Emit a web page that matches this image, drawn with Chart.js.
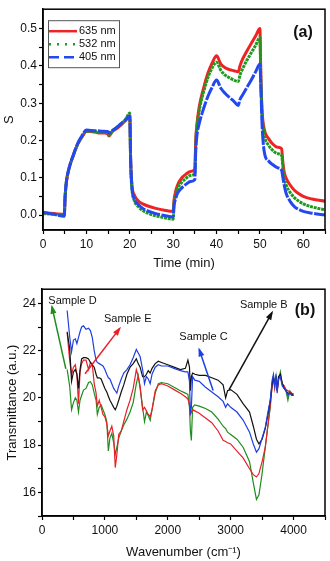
<!DOCTYPE html>
<html>
<head>
<meta charset="utf-8">
<script src="https://cdn.jsdelivr.net/npm/chart.js@4/dist/chart.umd.min.js"></script>
<style>
  body { margin: 0; background: #fff; }
  #wrapA { position: absolute; left: 0; top: 0; }
  #wrapB { position: absolute; left: 0; top: 280px; }
</style>
</head>
<body>
<div id="wrapA"><canvas id="chartA" width="330" height="280"></canvas></div>
<div id="wrapB"><canvas id="chartB" width="330" height="281"></canvas></div>
<script>
// ---- panel (a): sensitivity vs time ----
const times = [0, 2.5, 4.9, 5.1, 5.4, 6, 7, 8, 9, 10,
  11, 12.5, 14, 14.9, 15.2, 16, 17, 18, 19, 20,
  20.2, 20.5, 21, 22, 23, 24, 26, 28, 30, 30.2,
  30.6, 31, 32, 33, 34, 35, 35.2, 35.5, 36, 37,
  38, 39, 40, 41, 42, 43, 44, 45, 45.4, 46,
  47, 48, 49, 50, 50.2, 50.5, 51, 52, 53, 54,
  55, 55.3, 55.6, 56, 57, 58, 59, 60, 62, 65];
const s635 = [0.006, 0.004, 0.002, 0.05, 0.09, 0.125, 0.16, 0.19, 0.21, 0.224,
  0.224, 0.221, 0.22, 0.218, 0.212, 0.224, 0.232, 0.242, 0.253, 0.266,
  0.15, 0.08, 0.055, 0.038, 0.03, 0.025, 0.018, 0.013, 0.01, 0.04,
  0.065, 0.08, 0.1, 0.11, 0.117, 0.123, 0.2, 0.245, 0.29, 0.34,
  0.38, 0.408, 0.427, 0.405, 0.395, 0.39, 0.387, 0.384, 0.4, 0.418,
  0.44, 0.46, 0.48, 0.5, 0.38, 0.28, 0.23, 0.205, 0.19, 0.182,
  0.178, 0.14, 0.115, 0.1, 0.08, 0.066, 0.057, 0.05, 0.043, 0.037];
const s532 = [0.004, 0.002, 0.0, 0.05, 0.09, 0.125, 0.16, 0.19, 0.21, 0.225,
  0.225, 0.223, 0.222, 0.22, 0.214, 0.226, 0.235, 0.245, 0.256, 0.274,
  0.14, 0.07, 0.04, 0.022, 0.012, 0.006, -0.002, -0.007, -0.011, 0.03,
  0.055, 0.07, 0.088, 0.099, 0.106, 0.112, 0.19, 0.24, 0.28, 0.33,
  0.368, 0.395, 0.41, 0.388, 0.375, 0.368, 0.362, 0.358, 0.375, 0.392,
  0.415, 0.435, 0.455, 0.476, 0.37, 0.27, 0.215, 0.187, 0.173, 0.165,
  0.16, 0.13, 0.1, 0.082, 0.06, 0.046, 0.037, 0.03, 0.022, 0.014];
const s405 = [0.008, 0.002, -0.003, 0.05, 0.09, 0.125, 0.162, 0.192, 0.213, 0.228,
  0.227, 0.226, 0.225, 0.224, 0.22, 0.227, 0.235, 0.245, 0.255, 0.266,
  0.15, 0.075, 0.045, 0.028, 0.018, 0.012, 0.004, -0.001, -0.005, 0.025,
  0.045, 0.058, 0.073, 0.083, 0.09, 0.095, 0.17, 0.215, 0.245, 0.285,
  0.318, 0.343, 0.362, 0.34, 0.326, 0.315, 0.305, 0.294, 0.31, 0.322,
  0.342, 0.362, 0.384, 0.405, 0.35, 0.24, 0.17, 0.145, 0.135, 0.127,
  0.12, 0.1, 0.08, 0.06, 0.036, 0.022, 0.015, 0.01, 0.005, 0.0];
const seriesA = ['635 nm', '532 nm', '405 nm'];
const xTicksA = [0, 5, 10, 15, 20, 25, 30, 35, 40, 45, 50, 55, 60, 65];
const yTicksA = [0, 0.05, 0.1, 0.15, 0.2, 0.25, 0.3, 0.35, 0.4, 0.45, 0.5];

// ---- panel (b): FTIR spectra ----
const wn = [400, 440, 470, 500, 530, 555, 580, 605, 630, 660,
  700, 740, 770, 800, 830, 860, 880, 910, 940, 970,
  1000, 1030, 1055, 1080, 1110, 1140, 1165, 1190, 1220, 1260,
  1300, 1350, 1400, 1450, 1500, 1530, 1560, 1600, 1630, 1660,
  1690, 1720, 1750, 1800, 1850, 1900, 2000, 2100, 2200, 2280,
  2320, 2345, 2360, 2375, 2395, 2430, 2500, 2600, 2700, 2800,
  2880, 2920, 2950, 3000, 3100, 3200, 3300, 3360, 3410, 3450,
  3500, 3550, 3600, 3630, 3660, 3680, 3700, 3720, 3740, 3760,
  3790, 3820, 3850, 3880, 3910, 3940, 3970, 4000];
const tC = [23.7, 22.6, 21.95, 22.45, 22.5, 22.3, 22.55, 22.8, 23.0, 23.05,
  22.9, 22.95, 22.85, 22.55, 22.0, 21.6, 21.5, 21.45, 21.4, 21.35,
  21.2, 21.0, 20.85, 20.8, 20.6, 20.4, 20.3, 20.2, 20.5, 20.8,
  21.05, 21.2, 21.4, 21.7, 22.05, 21.9, 21.75, 21.2, 20.6, 20.9,
  20.8, 20.6, 21.0, 21.3, 21.4, 21.35, 21.35, 21.25, 21.15, 21.1,
  21.1, 20.7, 19.3, 19.6, 20.9, 20.75, 20.7, 20.45, 20.25, 20.05,
  19.85, 19.6, 19.75, 19.6, 19.4, 19.05, 18.55, 18.05, 17.7, 17.85,
  18.3, 18.75, 19.5, 19.9, 20.75, 21.0, 20.5, 20.9, 20.2, 20.8,
  20.9, 20.5, 20.4, 20.3, 20.1, 20.2, 20.1, 20.1];
const tB = [22.8, 22.1, 20.7, 21.1, 21.2, 21.0, 20.4, 21.2, 21.65, 21.7,
  21.7, 21.65, 21.5, 21.4, 21.3, 21.0, 20.85, 20.85, 20.8, 20.6,
  20.4, 20.25, 20.07, 19.9, 19.75, 19.6, 19.5, 19.65, 19.9, 20.25,
  20.55, 21.0, 21.3, 21.45, 21.65, 21.45, 21.3, 20.9, 20.9, 21.0,
  21.15, 21.05, 21.25, 21.45, 21.55, 21.5, 21.4, 21.3, 21.2, 21.25,
  21.6, 21.3, 20.3, 20.9, 21.05, 21.0, 20.95, 20.95, 20.85, 20.75,
  20.55, 20.0, 20.3, 20.35, 20.15, 19.75, 19.4, 18.8, 18.25, 18.05,
  18.25, 18.7, 19.4, 19.9, 20.6, 20.9, 20.6, 20.8, 20.3, 20.9,
  21.0, 20.6, 20.4, 20.3, 20.2, 20.2, 20.15, 20.1];
const tE = [22.75, 21.6, 21.0, 21.3, 21.4, 21.0, 19.75, 21.1, 21.45, 21.6,
  21.6, 21.2, 21.5, 21.4, 20.6, 20.2, 19.66, 19.9, 19.6, 19.3,
  19.2, 18.9, 18.4, 18.6, 18.8, 18.4, 17.05, 17.6, 18.45, 18.6,
  19.0, 19.5, 19.9, 20.4, 21.2, 20.9, 20.5, 19.5, 19.6, 19.45,
  19.3, 19.2, 19.5, 20.3, 20.55, 20.6, 20.5, 20.35, 20.2, 20.05,
  19.95, 19.7, 19.3, 19.4, 19.5, 19.45, 19.35, 19.15, 18.95, 18.6,
  18.2, 18.15, 18.1, 18.05, 17.75, 17.45, 17.0, 16.75, 16.65, 16.8,
  17.3, 17.9, 19.0, 19.7, 20.5, 20.8, 20.4, 20.9, 20.3, 20.8,
  20.9, 20.6, 20.5, 20.35, 20.3, 20.25, 20.2, 20.15];
const tD = [21.2, 20.5, 19.5, 19.8, 20.0, 19.9, 19.4, 19.9, 20.1, 20.33,
  20.4, 20.65, 20.68, 20.55, 20.2, 19.9, 19.3, 19.6, 19.7, 19.5,
  19.3, 19.0, 17.75, 18.3, 18.5, 18.1, 17.6, 17.9, 18.3, 18.6,
  18.85, 19.1, 19.4, 19.8, 20.6, 20.95, 20.4, 19.6, 19.0, 19.4,
  19.25, 19.05, 19.5, 20.2, 20.6, 20.65, 20.6, 20.45, 20.3, 20.2,
  20.15, 19.6, 18.6, 18.2, 19.6, 19.7, 19.65, 19.55, 19.4, 19.1,
  18.8, 18.7, 18.55, 18.45, 18.25, 17.9, 17.3, 16.4, 15.7, 15.9,
  16.8, 17.9, 19.0, 19.6, 20.6, 20.9, 20.5, 21.0, 20.4, 20.7,
  21.1, 20.6, 20.5, 20.3, 19.9, 20.3, 20.2, 20.15];
const sampleNames = ['Sample D', 'Sample E', 'Sample C', 'Sample B'];
// arrows: [tail, head] in data units, label anchors in data units
const arrowTailX = [379, 684, 2721, 2973];
const arrowTailY = [21.23, 21.02, 20.31, 20.34];
const arrowHeadX = [158, 1236, 2500, 3657];
const arrowHeadY = [23.86, 22.94, 22.05, 23.61];
const labelX = [100, 985, 2184, 3147];
const labelY = [24.09, 23.32, 22.58, 23.93];
const xTicksB = [0, 500, 1000, 1500, 2000, 2500, 3000, 3500, 4000, 4500];
const yTicksB = [15, 16, 17, 18, 19, 20, 21, 22, 23, 24];

Chart.defaults.font.family = "'Liberation Sans', Arial, sans-serif";
Chart.defaults.color = '#111';
Chart.defaults.animation = false;

// SHARED AXIS
function axis(opts) {
  return {
    type: 'linear',
    min: opts.min,
    max: opts.max,
    afterBuildTicks: s => { s.ticks = opts.ticks.map(v => ({ value: v })); },
    afterFit: s => { if (opts.width) s.width = opts.width; if (opts.height) s.height = opts.height; },
    ticks: { callback: opts.label, autoSkip: false, maxRotation: 0, font: { size: 12 }, color: '#111', padding: opts.pad },
    grid: { drawOnChartArea: false, tickLength: 4, tickColor: '#000', tickWidth: 1.2 },
    border: { color: '#000', width: 1.5 },
    title: { display: true, text: opts.title, font: { size: 13 }, color: '#111', padding: opts.titlePad }
  };
}

const framePlugin = {
  id: 'frame',
  afterDraw(chart) {
    const { ctx, chartArea: a } = chart;
    ctx.save();
    ctx.strokeStyle = '#000';
    ctx.lineWidth = 1.5;
    ctx.strokeRect(a.left, a.top, a.right - a.left, a.bottom - a.top);
    const tag = chart.options.plugins.frame.tag;
    ctx.font = "bold 16px 'Liberation Sans', Arial, sans-serif";
    ctx.fillStyle = '#111';
    ctx.textAlign = 'center';
    ctx.textBaseline = 'middle';
    ctx.fillText(tag.text, a.right - tag.dx, a.top + tag.dy);
    ctx.restore();
  }
};

// LEGEND BOX (a)
const legendDash = [[], [2, 6], [10, 5]];
const legendPlugin = {
  id: 'legendBox',
  afterDatasetsDraw(chart) {
    const { ctx, chartArea: a } = chart;
    const x0 = a.left + 5, y0 = a.top + 11;
    ctx.save();
    ctx.fillStyle = '#fff';
    ctx.fillRect(x0, y0, 71, 47);
    ctx.strokeStyle = '#555';
    ctx.lineWidth = 1;
    ctx.strokeRect(x0 + 0.5, y0 + 0.5, 71, 47);
    chart.data.datasets.forEach((ds, i) => {
      const y = y0 + 11 + i * 13;
      ctx.strokeStyle = ds.borderColor;
      ctx.lineWidth = 2.5;
      ctx.setLineDash(legendDash[i]);
      ctx.beginPath();
      ctx.moveTo(x0 + 1, y);
      ctx.lineTo(x0 + 29, y);
      ctx.stroke();
      ctx.setLineDash([]);
      ctx.fillStyle = '#111';
      ctx.font = "11px 'Liberation Sans', Arial, sans-serif";
      ctx.textBaseline = 'middle';
      ctx.fillText(ds.label, x0 + 31, y);
    });
    ctx.restore();
  }
};

// ARROWS + LABELS (b)
const arrowPlugin = {
  id: 'arrows',
  afterDatasetsDraw(chart) {
    const { ctx, scales } = chart;
    ctx.save();
    chart.data.datasets.forEach((ds, i) => {
      if (!ds.arrow) return;
      const pts = chart.getDatasetMeta(i).data;
      const t = pts[0], h = pts[1];
      const ang = Math.atan2(h.y - t.y, h.x - t.x);
      ctx.fillStyle = ds.borderColor;
      ctx.beginPath();
      ctx.moveTo(h.x + 2 * Math.cos(ang), h.y + 2 * Math.sin(ang));
      ctx.lineTo(h.x - 7 * Math.cos(ang) + 3 * Math.sin(ang), h.y - 7 * Math.sin(ang) - 3 * Math.cos(ang));
      ctx.lineTo(h.x - 7 * Math.cos(ang) - 3 * Math.sin(ang), h.y - 7 * Math.sin(ang) + 3 * Math.cos(ang));
      ctx.closePath();
      ctx.fill();
    });
    ctx.font = "11px 'Liberation Sans', Arial, sans-serif";
    ctx.fillStyle = '#111';
    ctx.textBaseline = 'middle';
    sampleNames.forEach((name, i) => {
      ctx.fillText(name, scales.x.getPixelForValue(labelX[i]), scales.y.getPixelForValue(labelY[i]));
    });
    ctx.restore();
  }
};

function pairs(xs, ys) {
  return xs.map((x, i) => ({ x: x, y: ys[i] }));
}

// CHART (a)
new Chart(document.getElementById('chartA'), {
  type: 'line',
  data: {
    datasets: [
      { label: seriesA[0], data: pairs(times, s635), borderColor: '#ee2424', borderWidth: 3, order: 3 },
      { label: seriesA[1], data: pairs(times, s532), borderColor: '#1e9a1e', borderWidth: 3, borderDash: [3, 0.8], order: 2 },
      { label: seriesA[2], data: pairs(times, s405), borderColor: '#2448f0', borderWidth: 3, borderDash: [14, 1.5], order: 1 }
    ]
  },
  options: {
    responsive: false,
    layout: { padding: { top: 2, right: 5, left: 0, bottom: 0 } },
    elements: { point: { radius: 0 }, line: { cubicInterpolationMode: 'monotone' } },
    plugins: { legend: { display: false }, tooltip: { enabled: false }, frame: { tag: { text: '(a)', dx: 22, dy: 23 } } },
    scales: {
      x: axis({ min: 0, max: 65, ticks: xTicksA, height: 50, pad: 3,
        label: v => (v % 10 === 0 ? String(v) : ''), title: 'Time (min)', titlePad: { top: 4, bottom: 9 } }),
      y: axis({ min: -0.04, max: 0.552, ticks: yTicksA, width: 43, pad: 2,
        label: v => (Math.abs(v * 10 - Math.round(v * 10)) < 1e-6 ? v.toFixed(1) : ''), title: 'S', titlePad: { top: 2, bottom: 0 } })
    }
  },
  plugins: [framePlugin, legendPlugin]
});

// CHART (b)
const arrowColors = ['#1e8c1e', '#e8202a', '#1f3fe0', '#111'];
const arrowSets = sampleNames.map((name, i) => ({
  label: name + ' arrow',
  arrow: true,
  data: [{ x: arrowTailX[i], y: arrowTailY[i] }, { x: arrowHeadX[i], y: arrowHeadY[i] }],
  borderColor: arrowColors[i],
  borderWidth: 1.5,
  order: 0
}));

new Chart(document.getElementById('chartB'), {
  type: 'line',
  data: {
    datasets: [
      { label: 'Sample D', data: pairs(wn, tD), borderColor: '#1e8c1e', borderWidth: 1.2, order: 4 },
      { label: 'Sample E', data: pairs(wn, tE), borderColor: '#e8202a', borderWidth: 1.2, order: 3 },
      { label: 'Sample B', data: pairs(wn, tB), borderColor: '#111', borderWidth: 1.2, order: 2 },
      { label: 'Sample C', data: pairs(wn, tC), borderColor: '#1f3fe0', borderWidth: 1.2, order: 1 }
    ].concat(arrowSets)
  },
  options: {
    responsive: false,
    layout: { padding: { top: 3, right: 5, left: 0, bottom: 0 } },
    elements: { point: { radius: 0 }, line: { tension: 0 } },
    plugins: { legend: { display: false }, tooltip: { enabled: false }, frame: { tag: { text: '(b)', dx: 20, dy: 21 } } },
    scales: {
      x: axis({ min: 0, max: 4500, ticks: xTicksB, height: 45, pad: 3,
        label: v => (v % 1000 === 0 ? String(v) : ''), title: 'Wavenumber (cm\u207B\u00B9)', titlePad: { top: 4, bottom: 1 } }),
      y: axis({ min: 15, max: 24.6, ticks: yTicksB, width: 42, pad: 2,
        label: v => (v % 2 === 0 ? String(v) : ''), title: 'Transmittance (a.u.)', titlePad: { top: 5, bottom: 0 } })
    }
  },
  plugins: [framePlugin, arrowPlugin]
});
</script>
</body>
</html>
